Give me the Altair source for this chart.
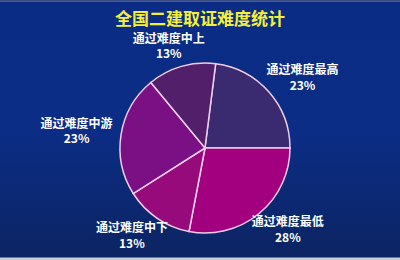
import altair as alt
import pandas as pd

categories = ["通过难度最高", "通过难度最低", "通过难度中下", "通过难度中游", "通过难度中上"]
values = [23, 28, 13, 23, 13]
colors = ["#3a2a70", "#a3007f", "#960a7c", "#7a1084", "#521f6a"]

df = pd.DataFrame({
    "cat": categories,
    "val": values,
    "order": list(range(len(categories))),
})
df["pct"] = [f"{v}%" for v in values]

W, H = 400, 260
CX, CY = 205, 148
RX, RY = 130, 106
start = 0.126
theta_scale = alt.Scale(range=[start, start + 6.283185])

one = pd.DataFrame({"a": [0]})
top_line = alt.Chart(one).mark_rect(color="#3a4a82").encode(
    x=alt.value(0), x2=alt.value(W), y=alt.value(0), y2=alt.value(1.5))
bg = alt.Chart(one).mark_rect(
    color=alt.Gradient(
        gradient="linear", x1=0, y1=0, x2=0, y2=1,
        stops=[alt.GradientStop(color="#0a2c84", offset=0),
               alt.GradientStop(color="#0b2d86", offset=0.5),
               alt.GradientStop(color="#0c2462", offset=1)],
    )
).encode(x=alt.value(0), x2=alt.value(W), y=alt.value(1.5), y2=alt.value(H - 2.5))

base = alt.Chart(df).encode(
    theta=alt.Theta("val:Q", stack=True, scale=theta_scale),
    order=alt.Order("order:Q"),
)

pie = base.mark_arc(outerRadius=85, stroke="#f2cdea", strokeWidth=1.5).encode(
    color=alt.Color("cat:N", scale=alt.Scale(domain=categories, range=colors), legend=None),
    x=alt.value(CX), y=alt.value(CY),
)

lab_base = alt.Chart(df).transform_window(
    cum="sum(val)", sort=[alt.SortField("order")], frame=[None, 0]
).transform_joinaggregate(
    total="sum(val)"
).transform_calculate(
    mid=f"{start} + 2*PI*(datum.cum - datum.val/2)/datum.total"
).transform_calculate(
    lx=f"{CX} + {RX}*sin(datum.mid)",
    ly=f"{CY} - {RY}*cos(datum.mid)",
).encode(
    x=alt.X("lx:Q", scale=None, axis=None),
    y=alt.Y("ly:Q", scale=None, axis=None),
)

txt = dict(font="Noto Sans CJK SC", fontSize=12, fontWeight="bold",
           color="white", baseline="middle", align="center")
names = lab_base.mark_text(dy=-7.5, **txt).encode(text="cat:N")
pcts = lab_base.mark_text(dy=8, **txt).encode(text="pct:N")

title = alt.Chart(pd.DataFrame({"t": ["全国二建取证难度统计"]})).mark_text(
    font="Noto Sans CJK SC", fontSize=17, fontWeight="bold", color="#f4ef3a",
    baseline="middle", align="center",
).encode(text="t:N", x=alt.value(200), y=alt.value(20))

chart = alt.layer(top_line, bg, pie, names, pcts, title).properties(
    width=W, height=H, padding=0, autosize=alt.AutoSizeParams(type="none"),
    background="#c9cde0",
).configure_view(strokeWidth=0)

chart.save("out.html", embed_options={"renderer": "svg", "actions": False})
